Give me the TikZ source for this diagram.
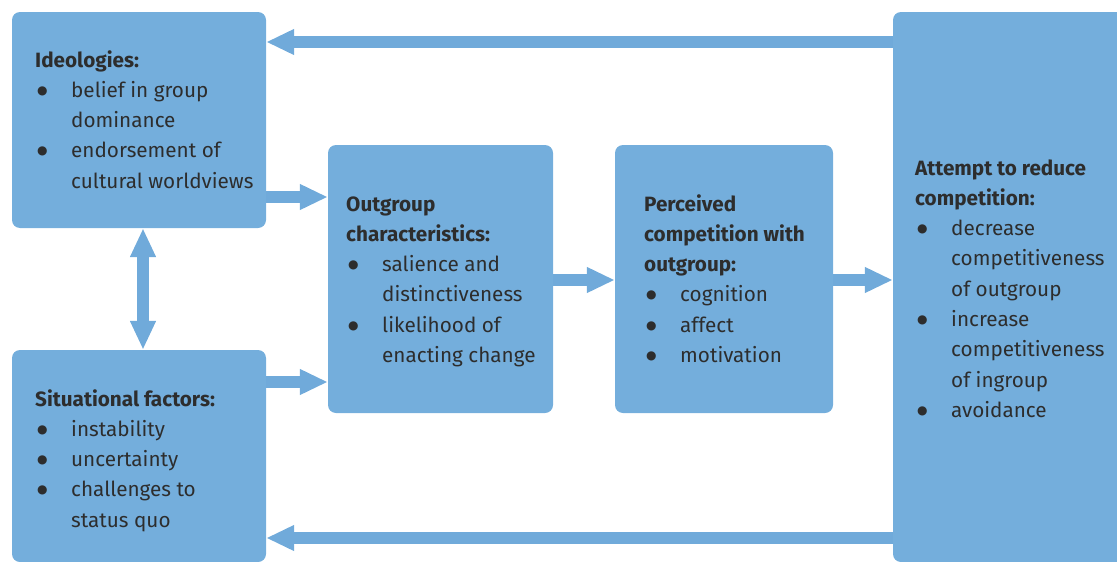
\documentclass[tikz,border=0pt]{standalone}
\usepackage{fontspec}
\setmainfont{Fira Sans}
\newfontfamily\bulletfont{DejaVu Sans}
\usetikzlibrary{arrows.meta}
\definecolor{boxblue}{HTML}{74AEDC}
\definecolor{arrblue}{HTML}{70AADA}
\definecolor{txtgray}{HTML}{2D2D2D}
\newcommand\bl{\makebox[36pt][l]{\hspace{2pt}\raisebox{3pt}{\fontsize{12}{12}\bulletfont ●}}}
\newcommand\ind{\hspace{36pt}}
\tikzset{
  box/.style={rectangle, rounded corners=8pt, fill=boxblue, draw=none, inner sep=0pt},
  txt/.style={inner sep=0pt, anchor=base west, text=txtgray, font=\fontsize{20.7}{30.3}\selectfont},
  arr/.style={draw=arrblue, line width=11.5pt, -{Triangle[length=28pt,width=24pt]}},
  darr/.style={draw=arrblue, line width=12pt, {Triangle[length=29pt,width=24pt]}-{Triangle[length=29pt,width=24pt]}}
}
\begin{document}
\begin{tikzpicture}[x=1pt,y=-1pt]
\useasboundingbox (0,0) rectangle (1117,562);
\clip (0,0) rectangle (1117,562);
% boxes
\node[box, minimum width=254pt, minimum height=216pt] (ideo) at (139,120) {};
\node[box, minimum width=254pt, minimum height=212pt] (situ) at (139,456) {};
\node[box, minimum width=225pt, minimum height=268pt] (out) at (440.5,279) {};
\node[box, minimum width=218pt, minimum height=268pt] (perc) at (724,279) {};
\node[box, minimum width=240pt, minimum height=550pt] (resp) at (1013,287) {};
% texts
\node[txt] (ideoT) at (35,67) {\begin{tabular}[t]{@{}l@{}}\textbf{Ideologies:}\\ \bl belief in group\\ \ind dominance\\ \bl endorsement of\\ \ind cultural worldviews\end{tabular}};
\node[txt] (situT) at (35,406) {\begin{tabular}[t]{@{}l@{}}\textbf{Situational factors:}\\ \bl instability\\ \bl uncertainty\\ \bl challenges to\\ \ind status quo\end{tabular}};
\node[txt] (outT) at (346,211) {\begin{tabular}[t]{@{}l@{}}\textbf{Outgroup}\\ \textbf{characteristics:}\\ \bl salience and\\ \ind distinctiveness\\ \bl likelihood of\\ \ind enacting change\end{tabular}};
\node[txt] (percT) at (644,211) {\begin{tabular}[t]{@{}l@{}}\textbf{Perceived}\\ \textbf{competition with}\\ \textbf{outgroup:}\\ \bl cognition\\ \bl affect\\ \bl motivation\end{tabular}};
\node[txt] (respT) at (915,175) {\begin{tabular}[t]{@{}l@{}}\textbf{Attempt to reduce}\\ \textbf{competition:}\\ \bl decrease\\ \ind competitiveness\\ \ind of outgroup\\ \bl increase\\ \ind competitiveness\\ \ind of ingroup\\ \bl avoidance\end{tabular}};
% connectors
\draw[arr] (resp.west |- 0,42) -- (ideo.east |- 0,42);
\draw[arr] (resp.west |- 0,538) -- (situ.east |- 0,538);
\draw[arr] (ideo.east |- 0,197) -- (out.west |- 0,197);
\draw[arr] (situ.east |- 0,382) -- (out.west |- 0,382);
\draw[arr] (out.east |- 0,280) -- (perc.west |- 0,280);
\draw[arr] (perc.east |- 0,280) -- (resp.west |- 0,280);
\draw[darr] (ideo.south -| 143,0) -- (situ.north -| 143,0);
\end{tikzpicture}
\end{document}
